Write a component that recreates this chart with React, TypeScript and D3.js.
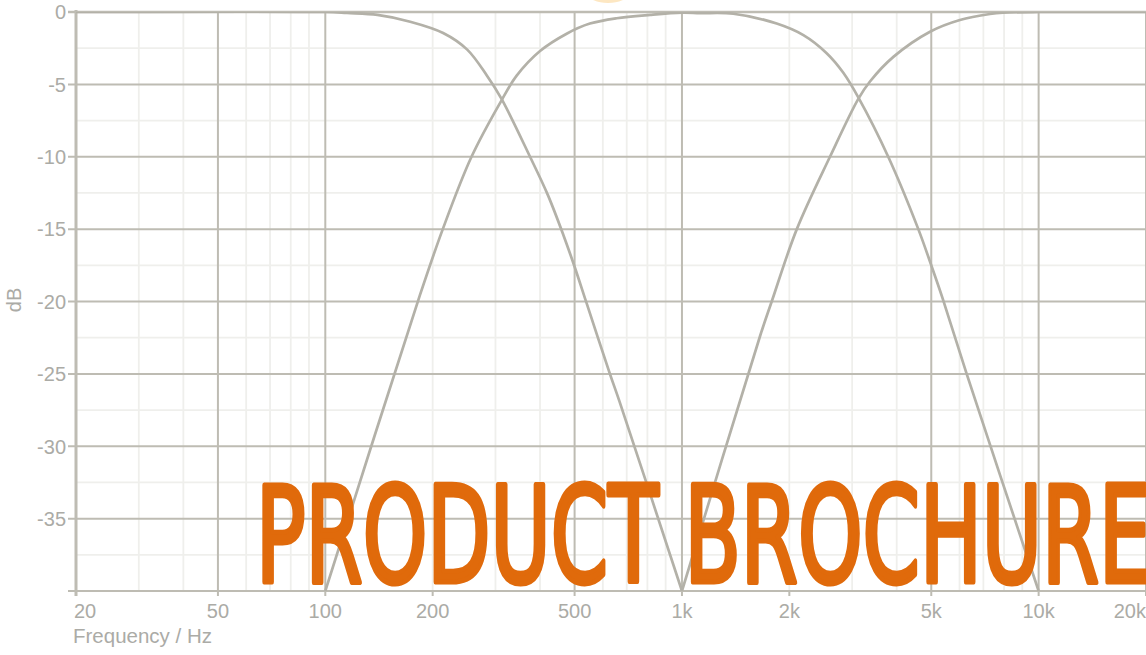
import React from "react";
import * as d3 from "d3";

// axis ticks
const freqTicks = [20, 50, 100, 200, 500, 1000, 2000, 5000, 10000, 20000];
const freqLabels = ["20", "50", "100", "200", "500", "1k", "2k", "5k", "10k", "20k"];
const majorFreqs = [20, 50, 100, 500, 1000, 5000, 10000, 20000];
const dbTicks = [0, -5, -10, -15, -20, -25, -30, -35];

// low-pass branch
const lowFreq = [20, 100, 115, 140, 173, 214, 250, 284, 312, 375, 420, 465, 500, 540, 628, 668, 1000];
const lowDb = [0, 0, -0.07, -0.2, -0.67, -1.45, -2.6, -4.4, -6.0, -10, -12.6, -15.4, -17.6, -20.1, -25, -26.9, -40];

// band-pass branch
const bandFreq = [100, 184, 213.5, 257, 312, 344, 400, 475, 552, 656, 814, 1000, 1124, 1393, 1843, 2190, 2545, 2834, 3122, 3787, 4599, 5000, 5383, 6284, 10000];
const bandDb = [-40, -19.6, -15, -10, -6.1, -4.4, -2.7, -1.5, -0.8, -0.43, -0.2, -0.05, -0.08, -0.12, -0.8, -1.6, -2.85, -4.2, -5.9, -10, -15, -17.5, -19.8, -25, -40];

// high-pass branch
const highFreq = [1000, 1655, 1785, 2099, 2600, 3122, 3366, 3915, 4960, 6017, 7305, 7950, 10000, 20000];
const highDb = [-40, -22.4, -20, -15, -10, -6.0, -4.8, -3.1, -1.36, -0.55, -0.14, -0.05, 0, 0];

const W = 1146;
const H = 655;
const left = 76;
const right = 1146;
const top = 12;
const bottom = 591;

const labelColor = "#ababa6";
const majorColor = "#bebcb3";
const minorColor = "#efefec";
const curveColor = "#b3b1a8";
const font = "'Liberation Sans', Arial, sans-serif";

export default function App() {
  const x = d3.scaleLog().domain([20, 20000]).range([left, right]);
  const y = d3.scaleLinear().domain([-40, 0]).range([bottom, top]);

  const line = d3
    .line<[number, number]>()
    .x((d) => x(d[0]))
    .y((d) => y(d[1]))
    .curve(d3.curveCatmullRom.alpha(0.5));

  const series = [
    lowFreq.map((f, i) => [f, lowDb[i]] as [number, number]),
    bandFreq.map((f, i) => [f, bandDb[i]] as [number, number]),
    highFreq.map((f, i) => [f, highDb[i]] as [number, number]),
  ];

  const minorX = x.ticks().filter((f) => !majorFreqs.includes(f));
  const minorY = d3.range(-37.5, 0, 5);

  return (
    <svg
      width={W}
      height={H}
      style={{ position: "absolute", left: 0, top: 0, background: "#fff" }}
    >
      <defs>
        <clipPath id="plot">
          <rect x={left} y={top} width={right - left} height={bottom - top} />
        </clipPath>
      </defs>
      <rect x={0} y={0} width={W} height={H} fill="#fff" />
      <ellipse cx={608} cy={-6} rx={20} ry={9} fill="#fde7c2" />

      {/* minor grid */}
      <g stroke={minorColor} strokeWidth={1.8}>
        {minorX.map((f) => (
          <line key={"mx" + f} x1={x(f)} x2={x(f)} y1={top} y2={bottom} />
        ))}
        {minorY.map((d) => (
          <line key={"my" + d} x1={left} x2={right} y1={y(d)} y2={y(d)} />
        ))}
      </g>

      {/* major grid */}
      <g stroke={majorColor} strokeWidth={2}>
        {majorFreqs.map((f) => (
          <line key={"Mx" + f} x1={x(f)} x2={x(f)} y1={top} y2={bottom} />
        ))}
        {dbTicks.map((d) => (
          <line key={"My" + d} x1={left - 8} x2={right} y1={y(d)} y2={y(d)} />
        ))}
        <line x1={left - 8} x2={right} y1={bottom} y2={bottom} />
        {freqTicks.map((f) => (
          <line key={"tk" + f} x1={x(f)} x2={x(f)} y1={bottom} y2={bottom + 5} />
        ))}
      </g>
      <line x1={left} x2={left} y1={top - 2} y2={bottom + 5} stroke={majorColor} strokeWidth={3} />
      <line x1={left - 8} x2={right} y1={top} y2={top} stroke={majorColor} strokeWidth={2.5} />

      {/* curves */}
      <g clipPath="url(#plot)" fill="none" stroke={curveColor} strokeWidth={2.7}>
        {series.map((s, i) => (
          <path key={i} d={line(s) || ""} />
        ))}
      </g>

      {/* y labels */}
      <g fill={labelColor} fontFamily={font} fontSize={20} textAnchor="end">
        {dbTicks.map((d) => (
          <text key={d} x={66} y={y(d) + 2} dominantBaseline="middle">
            {d}
          </text>
        ))}
      </g>
      <text
        transform="translate(21,300) rotate(-90)"
        textAnchor="middle"
        fill={labelColor}
        fontFamily={font}
        fontSize={20}
      >
        dB
      </text>

      {/* x labels */}
      <g fill={labelColor} fontFamily={font} fontSize={20}>
        {freqTicks.map((f, i) => (
          <text
            key={f}
            x={i === 0 ? left - 2 : x(f)}
            y={618}
            textAnchor={i === 0 ? "start" : i === freqTicks.length - 1 ? "end" : "middle"}
          >
            {freqLabels[i]}
          </text>
        ))}
      </g>
      <text x={73} y={643} fill={labelColor} fontFamily={font} fontSize={20.5}>
        Frequency / Hz
      </text>

      <text
        x={256}
        y={582}
        fontFamily="'Liberation Sans Narrow', 'DejaVu Sans Condensed', 'Liberation Sans', sans-serif"
        fontSize={134}
        textLength={895}
        lengthAdjust="spacingAndGlyphs"
        fill="#e06a0b"
        stroke="#e06a0b"
        strokeWidth={5}
        strokeLinejoin="round"
      >
        PRODUCT BROCHURE
      </text>
    </svg>
  );
}
